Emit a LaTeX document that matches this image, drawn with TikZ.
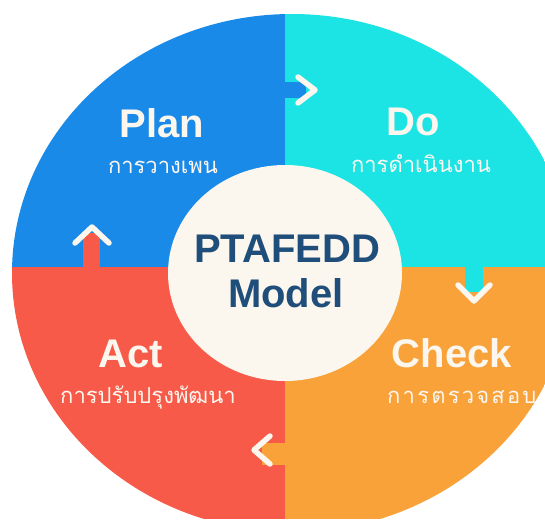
\documentclass[tikz,border=0pt]{standalone}
\usepackage{fontspec}
\setmainfont{Liberation Sans}
\newfontfamily\thaifont[Script=Thai]{Loma}

\definecolor{planblue}{HTML}{1A8AE8}
\definecolor{docyan}{HTML}{1DE4E4}
\definecolor{checkorange}{HTML}{F9A23A}
\definecolor{actred}{HTML}{F85A4A}
\definecolor{cream}{HTML}{FBF6EE}
\definecolor{navy}{HTML}{1E4E79}

\begin{document}
\begin{tikzpicture}[x=1pt,y=-1pt,
    title/.style={text=cream,font=\fontsize{40}{40}\selectfont\bfseries,anchor=base,inner sep=0pt},
    sub/.style={text=cream,font=\thaifont\fontsize{22}{22}\selectfont,anchor=base,inner sep=0pt},
    chev/.style={draw=cream,line width=5.5pt,line cap=round,line join=round}]
  \clip (0,0) rectangle (545,519);
  \fill[white] (0,0) rectangle (545,519);

  %quadrantes
  \begin{scope}
    \clip (292,273) ellipse (280pt and 259pt);
    \fill[planblue] (0,0) rectangle (285,267);
    \fill[docyan] (285,0) rectangle (545,267);
    \fill[checkorange] (285,267) rectangle (545,519);
    \fill[actred] (0,267) rectangle (285,519);

    %setas
    \fill[planblue] (275,82) rectangle (306,98);
    \draw[chev] (298,77) -- (315,90) -- (298,103);
    \fill[docyan] (465,257) rectangle (483,292);
    \draw[chev] (458,285) -- (474,301) -- (490,285);
    \fill[checkorange] (262,443) rectangle (295,465);
    \draw[chev] (270,436) -- (254,450) -- (270,464);
    \fill[actred] (83,233) rectangle (100,277);
    \draw[chev] (75,243) -- (92,227) -- (109,243);

    %textos
    \node[title] (plan) at (162,137) {Plan};
    \node[sub] (plansub) at (163,173) {การวางเพน};
    \node[title] (do) at (413,135) {Do};
    \node[sub] (dosub) at (421,172) {การดำเนินงาน};
    \node[title] (act) at (131,367) {Act};
    \node[sub] (actsub) at (148,403) {การปรับปรุงพัฒนา};
    \node[title] (check) at (452,367) {Check};
    \node[sub,anchor=base west] (checksub) at (387,403)
      {\addfontfeature{LetterSpace=10}การตรวจสอบ};
  \end{scope}

  %centro
  \fill[cream] (285,273) ellipse (117pt and 108pt);
  \node[title,text=navy] (ptafedd) at (287,262) {PTAFEDD};
  \node[title,text=navy] (model) at (286,307) {Model};
\end{tikzpicture}
\end{document}
